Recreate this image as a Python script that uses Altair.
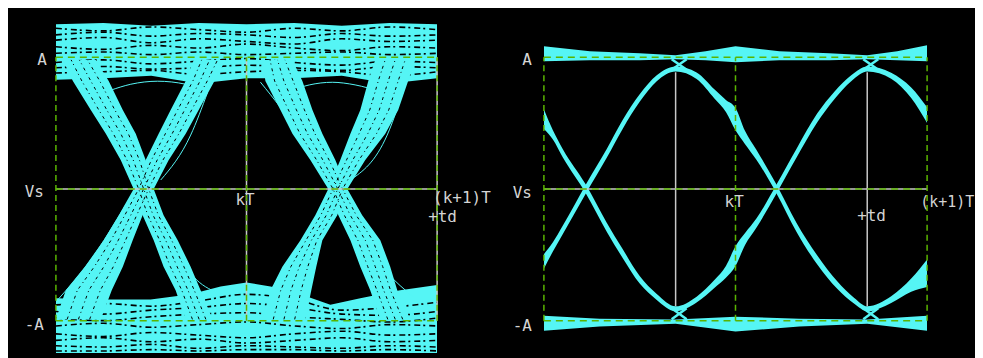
import altair as alt
import pandas as pd

CYAN = "#55f5f5"
GREEN = "#5ab400"
WHITE = "#c8c8c8"
TEXT = "#d4d4d4"
FONT = "DejaVu Sans Mono"

# ---------------- shared reference levels ----------------
level_v = [1.0, 0.0, -1.0]
level_names = ["A", "Vs", "-A"]
tick_t = [0.0, 1.0, 2.0]

# ---------------- left panel (noisy eye) ----------------
# horizontal envelopes (time in units of T) of the four transition bundles
branch_levels = [0.98, 0.82, 0.60, 0.42, 0.22, 0.0, -0.20, -0.39, -0.59, -0.77, -0.99]
f1_left = [0.037, 0.089, 0.183, 0.262, 0.340, 0.408, 0.455, 0.513, 0.565, 0.628, 0.681]
f1_right = [0.209, 0.277, 0.351, 0.419, 0.471, 0.513, 0.565, 0.639, 0.707, 0.759, 0.822]
r1_left = [0.723, 0.681, 0.602, 0.539, 0.471, 0.408, 0.330, 0.251, 0.152, 0.052, 0.0]
r1_right = [0.890, 0.832, 0.749, 0.681, 0.592, 0.513, 0.455, 0.403, 0.351, 0.293, 0.236]
f2_left = [1.084, 1.099, 1.178, 1.241, 1.335, 1.429, 1.482, 1.545, 1.597, 1.649, 1.702]
f2_right = [1.241, 1.293, 1.346, 1.398, 1.466, 1.529, 1.607, 1.702, 1.754, 1.791, 1.859]
r2_left = [1.675, 1.639, 1.597, 1.545, 1.492, 1.429, 1.361, 1.283, 1.188, 1.126, 1.084]
r2_right = [1.885, 1.848, 1.796, 1.728, 1.623, 1.529, 1.476, 1.398, 1.366, 1.340, 1.309]

# top (+A) and bottom (-A) bundles of the noisy eye
top_t = [0.0, 0.25, 0.5, 0.75, 1.0, 1.25, 1.5, 1.75, 2.0]
top_hi = [1.25, 1.26, 1.24, 1.26, 1.25, 1.26, 1.24, 1.26, 1.25]
top_lo = [0.83, 0.84, 0.86, 0.80, 0.84, 0.84, 0.86, 0.80, 0.84]
bot_t = [0.0, 0.236, 0.497, 0.707, 0.864, 1.0, 1.126, 1.283, 1.44, 1.597, 1.806, 2.0]
bot_hi = [-0.83, -0.84, -0.84, -0.80, -0.74, -0.71, -0.74, -0.80, -0.88, -0.83, -0.77, -0.73]
bot_lo = [-1.245] * 12

# dark gaps between the overlapping traces inside the two bundles (t = top_t)
top_gaps = [
    [1.22, 1.20, 1.23, 1.21, 1.19, 1.22, 1.20, 1.23, 1.21],
    [1.17, 1.19, 1.16, 1.18, 1.17, 1.15, 1.18, 1.16, 1.17],
    [1.13, 1.15, 1.11, 1.14, 1.12, 1.10, 1.14, 1.12, 1.13],
    [1.08, 1.06, 1.09, 1.07, 1.10, 1.07, 1.05, 1.08, 1.07],
    [1.03, 1.04, 1.02, 1.04, 1.02, 1.03, 1.04, 1.02, 1.03],
    [0.96, 0.98, 0.95, 0.97, 0.99, 0.96, 0.94, 0.97, 0.96],
    [0.92, 0.93, 0.91, 0.92, 0.94, 0.92, 0.90, 0.93, 0.92],
    [0.88, 0.89, 0.90, 0.87, 0.89, 0.90, 0.89, 0.86, 0.89],
]
bot_gaps = [
    [-0.88, -0.87, -0.89, -0.85, -0.80, -0.84, -0.92, -0.90, -0.86],
    [-0.93, -0.95, -0.92, -0.90, -0.87, -0.90, -0.95, -0.96, -0.93],
    [-0.98, -1.00, -0.97, -0.95, -0.94, -0.97, -0.99, -1.01, -0.98],
    [-1.04, -1.02, -1.05, -1.03, -1.01, -1.04, -1.06, -1.03, -1.04],
    [-1.10, -1.12, -1.09, -1.11, -1.13, -1.10, -1.08, -1.11, -1.10],
    [-1.15, -1.13, -1.16, -1.14, -1.17, -1.15, -1.13, -1.16, -1.15],
    [-1.19, -1.20, -1.18, -1.21, -1.19, -1.20, -1.21, -1.19, -1.20],
    [-1.23, -1.23, -1.22, -1.23, -1.22, -1.22, -1.23, -1.22, -1.23],
]

# stray single traces (t, v) around the bundles
wisps = {
    "s1": ([0.288, 0.393, 0.534, 0.681, 0.796], [0.75, 0.795, 0.818, 0.795, 0.735]),
    "s2": ([1.22, 1.33, 1.45, 1.57, 1.70], [0.74, 0.79, 0.81, 0.79, 0.74]),
    "w3": ([0.550, 0.707, 0.796], [0.068, 0.409, 0.735]),
    "w4": ([1.073, 1.283, 1.429], [0.811, 0.409, 0.068]),
    "w6": ([1.545, 1.738, 1.843], [0.068, 0.409, 0.841]),
    "w7": ([0.576, 0.723, 0.848], [-0.311, -0.667, -0.788]),
    "w8": ([1.110, 1.319, 1.440], [-0.765, -0.485, -0.083]),
    "w9": ([1.571, 1.738, 1.874], [-0.311, -0.636, -0.818]),
    "w10": ([0.010, 0.183, 0.366], [-0.841, -0.538, -0.121]),
}
# fractions across each bundle where dark gaps run
branch_gap_frac = [0.25, 0.5, 0.75]

# ---------------- right panel (clean eye) ----------------
p1_t = [0, 0.047, 0.099, 0.219, 0.328, 0.411, 0.5, 0.589, 0.6875, 0.797, 0.891, 0.95, 1.0, 1.05,
        1.109, 1.214, 1.318, 1.427, 1.516, 1.604, 1.6875, 1.8125, 1.917, 2.0]
p1_v = [0.53, 0.41, 0.27, 0.0, -0.29, -0.49, -0.69, -0.82, -0.91, -0.84, -0.72, -0.63, -0.51, -0.38,
        -0.26, 0.0, 0.27, 0.54, 0.71, 0.84, 0.91, 0.86, 0.73, 0.56]
p1_spread = [0.15, 0.07, 0.064, 0.068, 0.068, 0.068, 0.057, 0.045, 0.038, 0.045, 0.06, 0.09, 0.15, 0.09,
             0.07, 0.068, 0.068, 0.068, 0.057, 0.045, 0.038, 0.045, 0.08, 0.12]
p2_t = [0, 0.047, 0.099, 0.219, 0.328, 0.411, 0.5, 0.589, 0.6875, 0.797, 0.891, 0.95, 1.0, 1.05,
        1.109, 1.214, 1.318, 1.427, 1.531, 1.620, 1.6875, 1.8125, 1.917, 2.0]
p2_v = [-0.55, -0.44, -0.31, 0.0, 0.27, 0.49, 0.69, 0.84, 0.91, 0.86, 0.72, 0.63, 0.53, 0.39,
        0.26, 0.0, -0.29, -0.54, -0.73, -0.85, -0.91, -0.84, -0.73, -0.64]
p2_spread = [0.11, 0.07, 0.064, 0.068, 0.068, 0.068, 0.057, 0.045, 0.038, 0.05, 0.07, 0.09, 0.17, 0.10,
             0.075, 0.068, 0.068, 0.068, 0.057, 0.045, 0.038, 0.05, 0.1, 0.21]

rtop_t = [0, 0.24, 0.5, 0.6875, 0.844, 1.0, 1.229, 1.49, 1.6875, 1.844, 2.0]
rtop_hi = [1.083, 1.045, 1.03, 1.015, 1.045, 1.083, 1.045, 1.03, 1.015, 1.045, 1.091]
rtop_lo = [0.97, 0.977, 0.977, 0.985, 0.977, 0.962, 0.977, 0.977, 0.985, 0.977, 0.97]
rbot_t = [0, 0.29, 0.6875, 1.0, 1.333, 1.6875, 2.0]
rbot_hi = [-0.962, -0.985, -0.992, -0.970, -0.985, -0.992, -0.962]
rbot_lo = [-1.076, -1.045, -1.023, -1.083, -1.045, -1.023, -1.076]

# small crossings where the curves meet the +A / -A bundles
cross_t0 = [0.667, 1.667]
cross_t1 = [0.745, 1.745]
cross_top = [0.985, 0.905]
cross_bot = [-0.905, -0.99]

sample_t = [0.6875, 1.6875]
sample_top = 0.886
sample_bot = -0.89

# label placements (data units)
ylab_t_left = [-0.047, -0.063, -0.063]
ylab_v_left = [0.977, -0.023, -1.03]
ylab_t_right = [-0.0625, -0.0625, -0.0625]
ylab_v_right = [0.977, -0.03, -1.038]
xlab_text = ["kT", "(k+1)T", "+td"]
xlab_t_left = [0.942, 1.979, 1.953]
xlab_v_left = [-0.083, -0.072, -0.215]
xlab_t_right = [0.943, 1.964, 1.635]
xlab_v_right = [-0.098, -0.098, -0.205]


def xscale():
    return alt.Scale(domain=[0, 2], nice=False, zero=False)


def yscale():
    return alt.Scale(domain=[-1.258, 1.356], nice=False, zero=False)


def X(f):
    return alt.X(f, type="quantitative", scale=xscale(), axis=None)


def Y(f):
    return alt.Y(f, type="quantitative", scale=yscale(), axis=None)


def band_layer(name_t, lo, hi, names):
    rows = []
    for name, ts, los, his in zip(names, name_t, lo, hi):
        for t, a, b in zip(ts, los, his):
            rows.append({"band": name, "t": t, "lo": a, "hi": b})
    return alt.Chart(pd.DataFrame(rows)).mark_area(color=CYAN, clip=True).encode(
        x=X("t"), y=Y("lo"), y2="hi", detail="band:N")


def ref_layers(vert_white):
    hdf = pd.DataFrame({"v": level_v, "name": level_names, "t0": 0.0, "t1": 2.0})
    vdf = pd.DataFrame({"t": tick_t, "v0": -1.0, "v1": 1.0, "white": vert_white})
    layers = []
    layers.append(alt.Chart(hdf[hdf["name"] == "Vs"]).mark_rule(color=WHITE, strokeWidth=1.5)
                  .encode(y=Y("v"), x=X("t0"), x2="t1"))
    layers.append(alt.Chart(hdf).mark_rule(color=GREEN, strokeWidth=1.5, strokeDash=[7, 5])
                  .encode(y=Y("v"), x=X("t0"), x2="t1"))
    if any(vert_white):
        layers.append(alt.Chart(vdf[vdf["white"]]).mark_rule(color=WHITE, strokeWidth=1.5)
                      .encode(x=X("t"), y=Y("v0"), y2="v1"))
    layers.append(alt.Chart(vdf).mark_rule(color=GREEN, strokeWidth=1.5, strokeDash=[6, 4])
                  .encode(x=X("t"), y=Y("v0"), y2="v1"))
    return layers


def text_layers(yt, yv, xt, xv, sizes):
    ydf = pd.DataFrame({"t": yt, "v": yv, "s": level_names})
    xdf = pd.DataFrame({"t": xt, "v": xv, "s": xlab_text, "fs": sizes})
    a = alt.Chart(ydf).mark_text(align="right", baseline="middle", font=FONT, fontSize=16,
                                 color=TEXT).encode(x=X("t"), y=Y("v"), text="s:N")
    b = alt.Chart(xdf).mark_text(align="left", baseline="middle", font=FONT,
                                 color=TEXT).encode(x=X("t"), y=Y("v"), text="s:N",
                                                    size=alt.Size("fs:Q", scale=None, legend=None))
    return [a, b]


# ---- left chart ----
brows = []
grow = []
for name, lefts, rights in [("f1", f1_left, f1_right), ("r1", r1_left, r1_right),
                            ("f2", f2_left, f2_right), ("r2", r2_left, r2_right)]:
    for v, a, b in zip(branch_levels, lefts, rights):
        brows.append({"branch": name, "v": v, "tl": a, "tr": b})
        for k, f in enumerate(branch_gap_frac):
            grow.append({"g": f"{name}{k}", "v": v, "t": a + f * (b - a)})
branches = alt.Chart(pd.DataFrame(brows)).mark_area(orient="horizontal", color=CYAN, clip=True).encode(
    y=Y("v"), x=X("tl"), x2="tr", detail="branch:N")
branch_gaps = alt.Chart(pd.DataFrame(grow)).mark_line(
    color="black", strokeWidth=1, strokeDash=[3, 4, 1, 3], clip=True).encode(
    x=X("t"), y=Y("v"), detail="g:N", order="v:Q")

left_bands = band_layer([top_t, bot_t], [top_lo, bot_lo], [top_hi, bot_hi], ["top", "bot"])
gap_rows = []
for i, vals in enumerate(top_gaps):
    for t, v in zip(top_t, vals):
        gap_rows.append({"g": f"top{i}", "t": t, "v": v})
for i, vals in enumerate(bot_gaps):
    for t, v in zip(top_t, vals):
        gap_rows.append({"g": f"bot{i}", "t": t, "v": v})
band_gaps = alt.Chart(pd.DataFrame(gap_rows)).mark_line(
    color="black", strokeWidth=1.6, strokeDash=[6, 3, 2, 4], interpolate="monotone", clip=True).encode(
    x=X("t"), y=Y("v"), detail="g:N")

wrows = []
for name, (ts, vs) in wisps.items():
    for t, v in zip(ts, vs):
        wrows.append({"w": name, "t": t, "v": v})
wisp_layer = alt.Chart(pd.DataFrame(wrows)).mark_line(
    color=CYAN, strokeWidth=1, interpolate="monotone", clip=True).encode(
    x=X("t"), y=Y("v"), detail="w:N", order="t:Q")

left = alt.layer(left_bands, band_gaps, wisp_layer, branches, branch_gaps,
                 *ref_layers([False, True, True]),
                 *text_layers(ylab_t_left, ylab_v_left, xlab_t_left, xlab_v_left, [16, 16, 16])).properties(
    width=382, height=345)

# ---- right chart ----
crows = []
for name, ts, vs, ss in [("p1", p1_t, p1_v, p1_spread), ("p2", p2_t, p2_v, p2_spread)]:
    for t, v, s in zip(ts, vs, ss):
        crows.append({"curve": name, "t": t, "v": v, "s": s})
curves = alt.Chart(pd.DataFrame(crows)).transform_calculate(
    lo="datum.v - datum.s / 2", hi="datum.v + datum.s / 2").mark_area(
    color=CYAN, interpolate="monotone", clip=True).encode(
    x=X("t"), y=Y("lo"), y2="hi", detail="curve:N")
right_bands = band_layer([rtop_t, rbot_t], [rtop_lo, rbot_lo], [rtop_hi, rbot_hi], ["top", "bot"])

xrows = []
for i, (a, b) in enumerate(zip(cross_t0, cross_t1)):
    for lvl, (hi, lo) in (("t", cross_top), ("b", (cross_bot[0], cross_bot[1]))):
        xrows.append({"k": f"{lvl}{i}a", "t": a, "v": hi})
        xrows.append({"k": f"{lvl}{i}a", "t": b, "v": lo})
        xrows.append({"k": f"{lvl}{i}b", "t": a, "v": lo})
        xrows.append({"k": f"{lvl}{i}b", "t": b, "v": hi})
crossings = alt.Chart(pd.DataFrame(xrows)).mark_line(color=CYAN, strokeWidth=2.5).encode(
    x=X("t"), y=Y("v"), detail="k:N", order="t:Q")

samples = alt.Chart(pd.DataFrame({"t": sample_t, "v0": sample_bot, "v1": sample_top})).mark_rule(
    color=WHITE, strokeWidth=1.5).encode(x=X("t"), y=Y("v0"), y2="v1")

right = alt.layer(right_bands, crossings, curves, samples,
                  *ref_layers([False, False, False]),
                  *text_layers(ylab_t_right, ylab_v_right, xlab_t_right, xlab_v_right, [16, 15, 16])).properties(
    width=384, height=345)

chart = alt.hconcat(left, right, spacing=107, bounds="flush").properties(
    background="black",
    padding={"left": 16, "top": 2, "right": 0, "bottom": 3},
).configure_view(stroke=None)

chart.save("out.html", embed_options={"renderer": "svg", "actions": False})
